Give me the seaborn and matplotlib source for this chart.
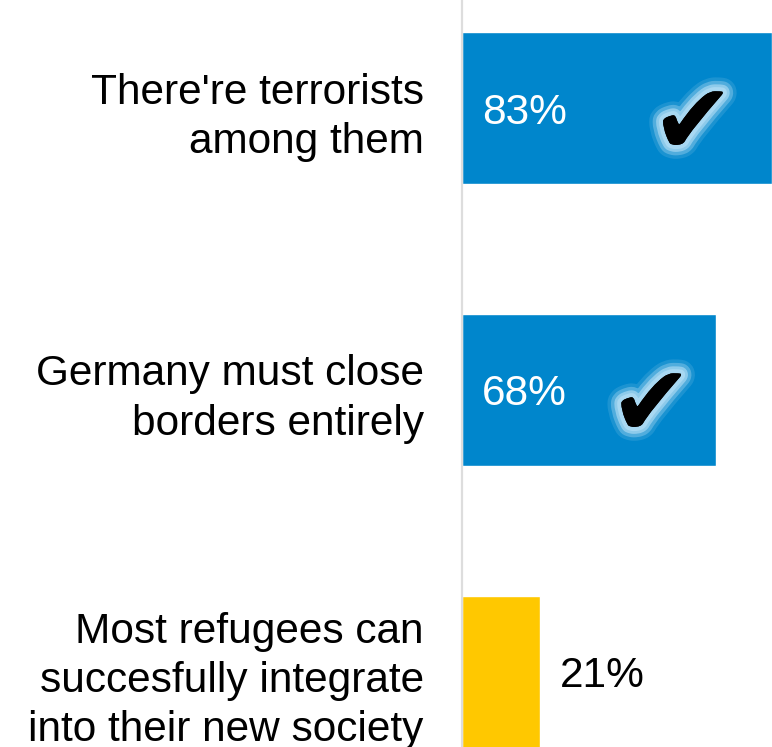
#!/usr/bin/env python

import matplotlib.pyplot as plt
import matplotlib.patheffects as pe
import pandas as pd
import seaborn as sns

statements = [
    "There're terrorists\namong them",
    "Germany must close\nborders entirely",
    "Most refugees can\nsuccesfully integrate\ninto their new society",
]
shares = [83, 68, 21]
agreed = [True, True, False]
bar_colors = ["#0086cc", "#0086cc", "#ffc800"]


def main():
    sns.set_theme(style="white")
    plt.rcParams['font.family'] = ['Liberation Sans', 'DejaVu Sans']
    data = pd.DataFrame({"statement": statements, "share": shares})

    fig = plt.figure(figsize=(7.72, 7.47), dpi=100)
    ax = fig.add_axes([462 / 772, 0, 1 - 462 / 772, 1])
    sns.barplot(data=data, x="share", y="statement", hue="statement",
                palette=bar_colors, saturation=1, width=0.54, orient="h",
                legend=False, ax=ax)

    ax.set_xlim(0, 83)
    ax.set_ylim(2.266, -0.383)
    ax.set_xticks([])
    ax.set_xlabel("")
    ax.set_ylabel("")
    for side in ["top", "right", "bottom"]:
        ax.spines[side].set_visible(False)
    ax.spines["left"].set_color("#dddddd")
    ax.spines["left"].set_linewidth(1.6)
    ax.tick_params(axis="y", length=0, pad=27.5, labelsize=30.5,
                   labelcolor="black")
    for lab in ax.get_yticklabels():
        lab.set_linespacing(1.3)

    glow = [
        pe.withStroke(linewidth=20, foreground="#e6f4fc", alpha=0.12),
        pe.withStroke(linewidth=15, foreground="#d0ebfa", alpha=0.3),
        pe.withStroke(linewidth=10, foreground="#b8e0f6", alpha=0.6),
        pe.withStroke(linewidth=6, foreground="#a8d8f2", alpha=1),
        pe.Normal(),
    ]

    for i, (v, ok) in enumerate(zip(shares, agreed)):
        if ok:
            ax.annotate(f"{v}%", xy=(0, i), xytext=(20, 0),
                        textcoords="offset pixels", va="center_baseline",
                        ha="left", fontsize=30.5, color="white")
            ax.annotate("\u2714", xy=(v * 0.745, i), xytext=(0, -18),
                        textcoords="offset pixels", fontsize=71,
                        family="DejaVu Sans", ha="center", va="center",
                        color="black", path_effects=glow)
        else:
            ax.annotate(f"{v}%", xy=(v, i), xytext=(19, 0),
                        textcoords="offset pixels", va="center_baseline",
                        ha="left", fontsize=30.5, color="black")

    fig.savefig("out.png", dpi=100)


if __name__ == '__main__':
    main()
